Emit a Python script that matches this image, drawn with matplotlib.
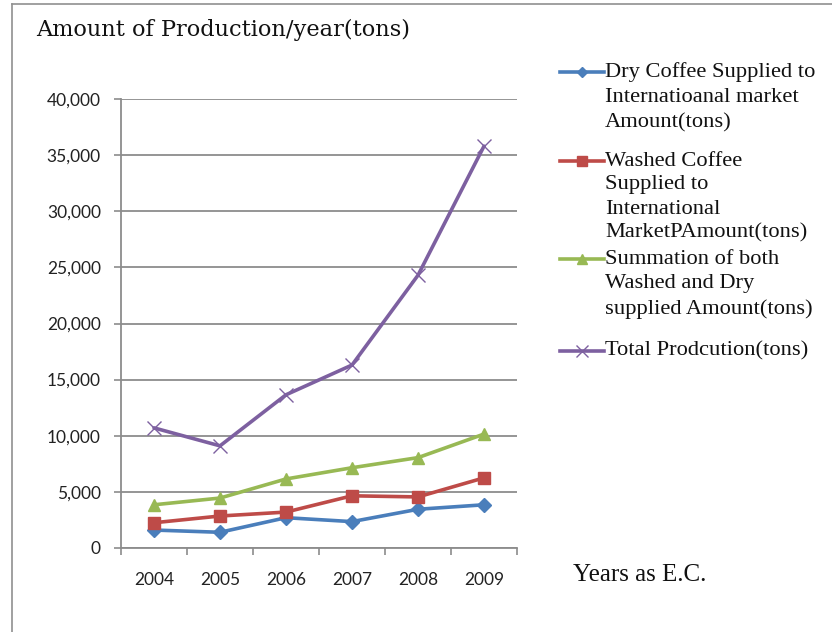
import matplotlib
matplotlib.use("Agg")
import matplotlib.pyplot as plt
from matplotlib.lines import Line2D
import numpy as np

years = ["2004", "2005", "2006", "2007", "2008", "2009"]
dry_coffee = [1600, 1400, 2700, 2350, 3450, 3850]
washed_coffee = [2250, 2850, 3200, 4650, 4550, 6250]
summation = [3850, 4450, 6150, 7150, 8050, 10150]
total_production = [10700, 9100, 13650, 16300, 24300, 35800]

series = [dry_coffee, washed_coffee, summation, total_production]
labels = [
    "Dry Coffee Supplied to\nInternatioanal market\nAmount(tons)",
    "Washed Coffee\nSupplied to\nInternational\nMarketPAmount(tons)",
    "Summation of both\nWashed and Dry\nsupplied Amount(tons)",
    "Total Prodcution(tons)",
]
colors = ["#4A7EBB", "#BE4B48", "#98B954", "#7D60A0"]
markers = ["D", "s", "^", "x"]
msizes = [7, 9, 9, 10]

W, H = 832, 632
fig = plt.figure(figsize=(W / 100, H / 100), dpi=100)
fig.patch.set_facecolor("white")

def fx(px):
    return px / W

def fy(py):
    return 1 - py / H

ax = fig.add_axes([fx(121), fy(548), fx(517) - fx(121), fy(99) - fy(548)])
grid_c = "#8C8C8C"
x = np.arange(len(years))
for s, c, m, ms in zip(series, colors, markers, msizes):
    ax.plot(x, s, color=c, lw=2.6, marker=m, markersize=ms, markeredgewidth=1,
            markerfacecolor=c, markeredgecolor=c, zorder=3, solid_capstyle="round")

ax.set_xlim(-0.5, len(years) - 0.5)
ax.set_ylim(0, 40000)
ax.set_yticks(np.arange(0, 40001, 5000))
ax.set_yticklabels([f"{v:,}" for v in range(0, 40001, 5000)])
ax.set_xticks(x)
ax.set_xticklabels(years)
ax.set_xticks(np.arange(-0.5, len(years), 1.0), minor=True)
ax.tick_params(axis="x", which="major", length=0, pad=17)
ax.tick_params(axis="x", which="minor", length=5, color=grid_c, width=1.2, direction="out")
ax.tick_params(axis="y", length=5, color=grid_c, width=1.2, pad=9.5)
for lab in ax.get_xticklabels() + ax.get_yticklabels():
    lab.set_fontfamily("Lato")
    lab.set_fontsize(12.5)
    lab.set_color("#222222")
ax.grid(axis="y", color=grid_c, lw=1.3)
ax.set_axisbelow(True)
for side in ["top", "right"]:
    ax.spines[side].set_visible(False)
for side in ["left", "bottom"]:
    ax.spines[side].set_color(grid_c)
    ax.spines[side].set_linewidth(1.3)

# outer frame (left and top edges)
fig.add_artist(Line2D([fx(12), fx(12)], [0, fy(4)], color="#909090", lw=1.2))
fig.add_artist(Line2D([fx(12), 1], [fy(4), fy(4)], color="#909090", lw=1.2))

fig.text(fx(36), fy(30), "Amount of Production/year(tons)", fontsize=16.2,
         family="DejaVu Serif", va="center", ha="left", color="#111111")
fig.text(fx(573), fy(575), "Years as E.C.", fontsize=18,
         family="Liberation Serif", va="center", ha="left", color="#111111")

# legend
leg_y = [72, 161, 259, 351]
line_sp = [25.5, 24, 25, 25]
for lab, c, m, ms, yy, sp in zip(labels, colors, markers, msizes, leg_y, line_sp):
    fig.add_artist(Line2D([fx(560), fx(604)], [fy(yy), fy(yy)], color=c, lw=2.6))
    fig.add_artist(Line2D([fx(582)], [fy(yy)], color=c, marker=m, markersize=ms * 0.8,
                          markerfacecolor=c, markeredgecolor=c))
    for i, ln in enumerate(lab.split("\n")):
        fig.text(fx(605), fy(yy + i * sp), ln, fontsize=16.2,
                 family="Liberation Serif", va="center", ha="left", color="#111111")

fig.savefig("out.png", dpi=100)
